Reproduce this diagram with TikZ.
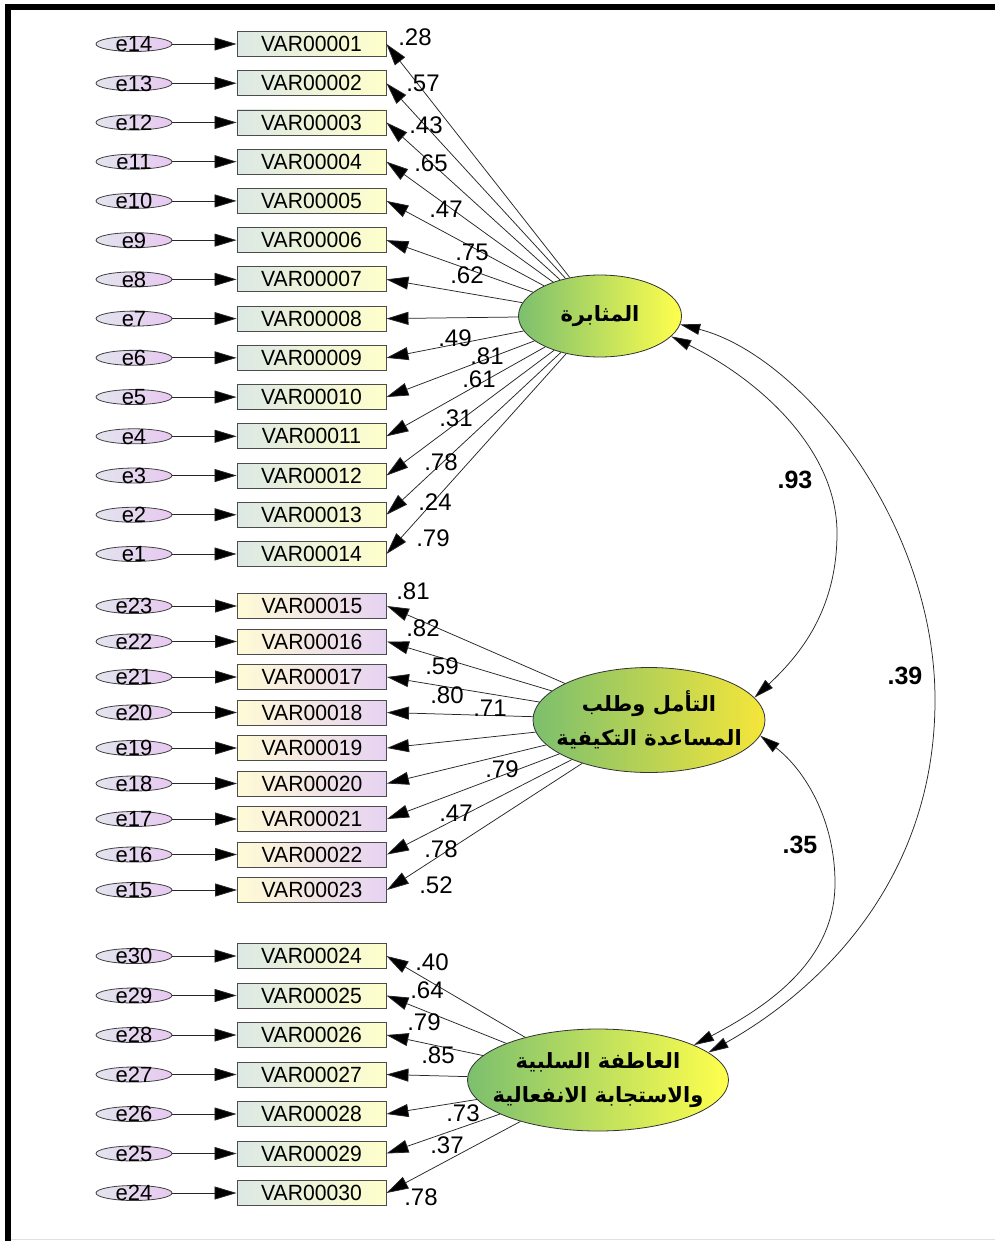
\documentclass[tikz,border=0pt]{standalone}
\usepackage{fontspec}
\setmainfont{Liberation Sans}
\newfontfamily\arabicfont[Script=Arabic]{DejaVu Sans}
\newfontfamily\boxfont[FakeStretch=0.96]{Liberation Sans}
\TeXXeTstate=1
\usetikzlibrary{arrows.meta,shapes.geometric}
\definecolor{boxL}{HTML}{DCE8E4}
\definecolor{boxR}{HTML}{FFFFCC}
\definecolor{boxLL}{HTML}{FFFBD6}
\definecolor{boxRR}{HTML}{E6D2F2}
\definecolor{errL}{HTML}{E2E5EE}
\definecolor{errR}{HTML}{E8C8F0}
\definecolor{latL}{HTML}{7CBF6E}
\definecolor{latR}{HTML}{FFFF4D}
\definecolor{latRR}{HTML}{F5E63A}
\definecolor{ink}{HTML}{262626}
\begin{document}
\begin{tikzpicture}[x=1pt,y=-1pt,
  obs/.style={rectangle, draw=black!70, line width=0.9pt, minimum width=149pt, minimum height=25pt, inner sep=0pt, font=\boxfont\fontsize{22}{22}\selectfont},
  obsA/.style={obs, left color=boxL, right color=boxR},
  obsB/.style={obs, left color=boxLL, right color=boxRR},
  err/.style={ellipse, draw=black!75, line width=0.8pt, minimum width=76pt, minimum height=15pt, inner sep=0pt, left color=errL, right color=errR, font=\fontsize{22}{22}\selectfont},
  lat/.style={ellipse, draw=black!80, line width=0.8pt, inner sep=0pt, left color=latL, right color=latR},
  lattext/.style={font=\arabicfont\bfseries\fontsize{21}{34}\selectfont, align=center, inner sep=0pt},
  arr/.style={draw=ink, line width=0.75pt, -{Triangle[length=22pt,width=13pt,fill=black]}},
  cov/.style={draw=ink, line width=0.75pt, {Triangle[length=20pt,width=11pt,fill=black]}-{Triangle[length=20pt,width=11pt,fill=black]}},
  ld/.style={font=\fontsize{24}{24}\selectfont, inner sep=0pt},
  cv/.style={font=\bfseries\fontsize{25}{25}\selectfont, inner sep=0pt}]
\useasboundingbox (0,0) rectangle (995,1241);
\fill[white] (0,0) rectangle (995,1241);
\draw[line width=6pt] (8,1241) -- (8,7.5) -- (995,7.5);
\draw[black!12, line width=1.2pt] (11,1239.5) -- (995,1239.5);

% latent variables
\node[lat, minimum width=163pt, minimum height=82pt] (F1) at (600,316) {};
\node[lattext] (F1t) at (F1) {\beginR المثابرة\endR};
\node[lat, right color=latRR, minimum width=232pt, minimum height=105pt] (F2) at (649,720) {};
\node[lattext] (F2t) at (F2) {\beginR التأمل وطلب\endR\\\beginR المساعدة التكيفية\endR};
\node[lat, minimum width=261pt, minimum height=102pt] (F3) at (598,1080) {};
\node[lattext] (F3t) at (F3) {\beginR العاطفة السلبية\endR\\\beginR والاستجابة الانفعالية\endR};

% group 1
\foreach \i in {1,...,14}{
  \pgfmathsetmacro{\yy}{44+(\i-1)*39.23}
  \pgfmathtruncatemacro{\ee}{15-\i}
  \node[obsA] (v\i) at (311.5,\yy) {\ifnum\i<10 VAR0000\i\else VAR000\i\fi};
  \node[err] (e\ee) at (134,\yy) {\smash{\raisebox{-0.36em}{e\ee}}};
  \draw[arr] (e\ee.east) -- (v\i.west);
  \draw[arr] (F1) -- (v\i.east);
}
% group 2
\foreach \j in {1,...,9}{
  \pgfmathsetmacro{\yy}{606+(\j-1)*35.5}
  \pgfmathtruncatemacro{\vv}{14+\j}
  \pgfmathtruncatemacro{\ee}{24-\j}
  \node[obsB] (v\vv) at (312,\yy) {VAR000\vv};
  \node[err] (e\ee) at (134,\yy) {\smash{\raisebox{-0.36em}{e\ee}}};
  \draw[arr] (e\ee.east) -- (v\vv.west);
  \draw[arr] (F2) -- (v\vv.east);
}
% group 3
\foreach \k in {1,...,7}{
  \pgfmathsetmacro{\yy}{956+(\k-1)*39.5}
  \pgfmathtruncatemacro{\vv}{23+\k}
  \pgfmathtruncatemacro{\ee}{31-\k}
  \node[obsA] (v\vv) at (311.5,\yy) {VAR000\vv};
  \node[err] (e\ee) at (134,\yy) {\smash{\raisebox{-0.36em}{e\ee}}};
  \draw[arr] (e\ee.east) -- (v\vv.west);
  \draw[arr] (F3) -- (v\vv.east);
}

% loadings group 1
\node[ld] (l1) at (415,37) {.28};
\node[ld] (l2) at (423,83) {.57};
\node[ld] (l3) at (426,125) {.43};
\node[ld] (l4) at (431,163) {.65};
\node[ld] (l5) at (446,209) {.47};
\node[ld] (l6) at (472,252) {.75};
\node[ld] (l7) at (467,275) {.62};
\node[ld] (l8) at (455,338) {.49};
\node[ld] (l9) at (487,356) {.81};
\node[ld] (l10) at (479,379) {.61};
\node[ld] (l11) at (456,418) {.31};
\node[ld] (l12) at (441,462) {.78};
\node[ld] (l13) at (435,502) {.24};
\node[ld] (l14) at (433,538) {.79};
% loadings group 2
\node[ld] (l15) at (413,591) {.81};
\node[ld] (l16) at (423,628) {.82};
\node[ld] (l17) at (442,666) {.59};
\node[ld] (l18) at (447,695) {.80};
\node[ld] (l19) at (490,708) {.71};
\node[ld] (l20) at (502,769) {.79};
\node[ld] (l21) at (456,813) {.47};
\node[ld] (l22) at (441,849) {.78};
\node[ld] (l23) at (436,885) {.52};
% loadings group 3
\node[ld] (l24) at (432,962) {.40};
\node[ld] (l25) at (427,990) {.64};
\node[ld] (l26) at (424,1022) {.79};
\node[ld] (l27) at (438,1055) {.85};
\node[ld] (l28) at (463,1113) {.73};
\node[ld] (l29) at (447,1145) {.37};
\node[ld] (l30) at (421,1197) {.78};

% covariances
\coordinate (c93) at (837,533);
\coordinate (c39) at (935,700);
\coordinate (c35) at (835,883);
\draw[cov] (F1.-16) .. controls (760,380) and (837,450) .. (c93) .. controls (837,610) and (800,655) .. (F2.12);
\draw[cov] (F1.-6) .. controls (800,355) and (935,520) .. (c39) .. controls (935,880) and (820,990) .. (F3.14);
\draw[cov] (F2.-8) .. controls (805,770) and (835,820) .. (c35) .. controls (835,960) and (770,1005) .. (F3.20);
\node[cv] (k93) at (795,480) {.93};
\node[cv] (k39) at (905,676) {.39};
\node[cv] (k35) at (800,845) {.35};
\end{tikzpicture}
\end{document}
